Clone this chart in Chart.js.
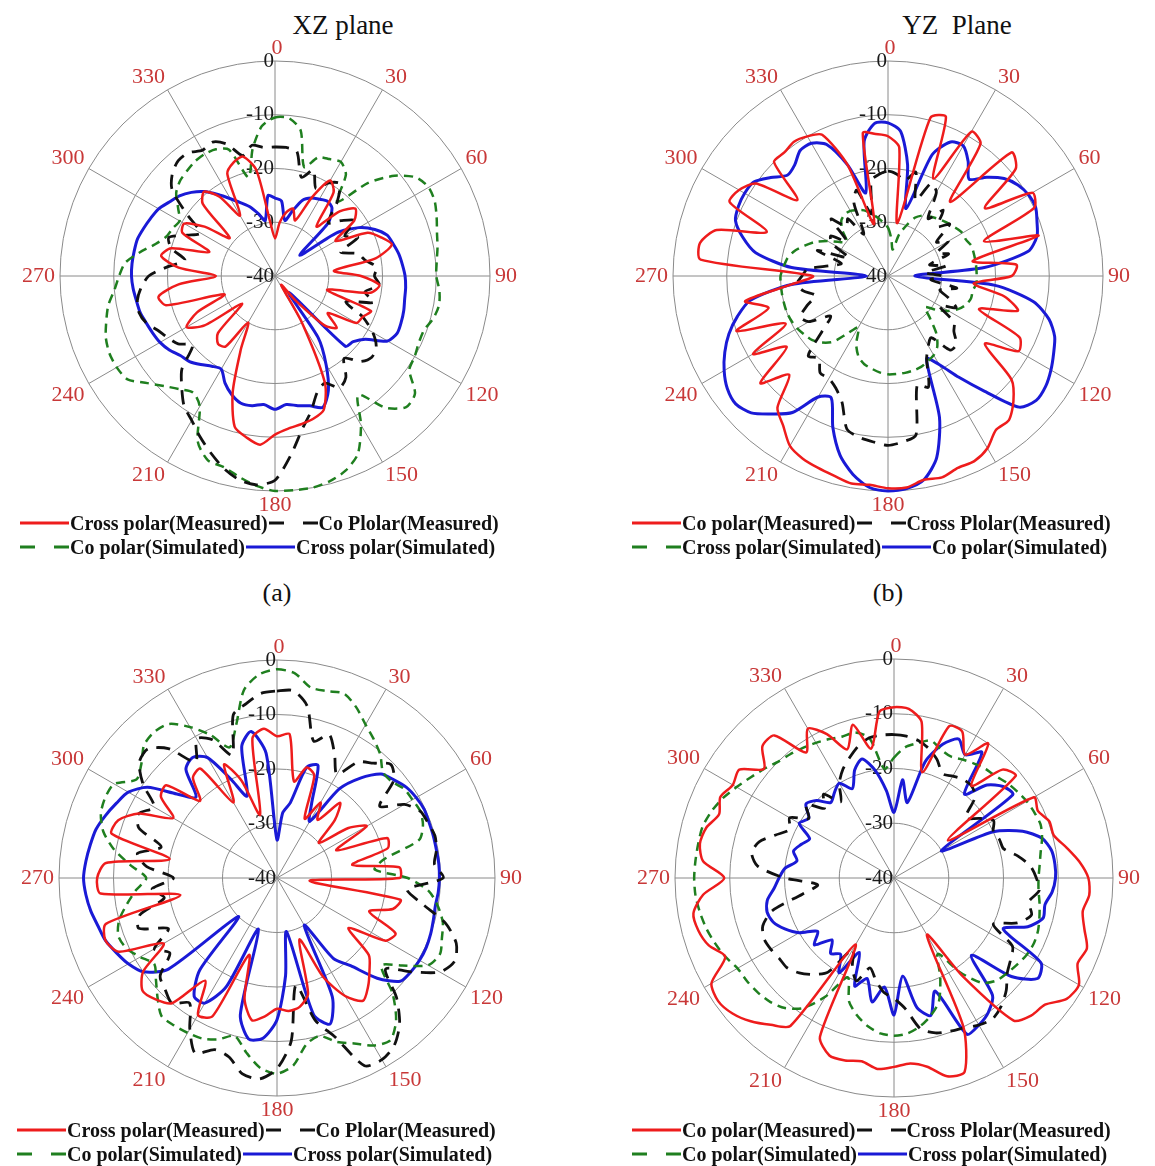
<!DOCTYPE html>
<html>
<head>
<meta charset="utf-8">
<script src="https://cdn.jsdelivr.net/npm/chart.js@4.4.1/dist/chart.umd.min.js"></script>
<style>
  html, body { margin: 0; padding: 0; background: #fff; }
  body { width: 1155px; height: 1166px; position: relative; overflow: hidden; font-family: 'Liberation Serif', 'Times New Roman', serif; color: #111; }
  canvas.plot { position: absolute; }
  .title { position: absolute; font-size: 27px; line-height: 30px; white-space: pre; transform: translateX(-50%); }
  .caption { position: absolute; font-size: 26px; line-height: 30px; transform: translateX(-50%); }
  .legend { position: absolute; font-weight: bold; font-size: 20px; z-index: 2; }
  .legend .row { display: flex; align-items: center; height: 24px; white-space: nowrap; }
  .legend svg { display: block; flex: none; margin: 0 1px; }
</style>
</head>
<body>
<div class="title" style="left:343px; top:10px;">XZ plane</div>
<div class="title" style="left:957px; top:10px;">YZ  Plane</div>
<canvas class="plot" id="chartA" width="540" height="500"></canvas>
<canvas class="plot" id="chartB" width="540" height="500"></canvas>
<canvas class="plot" id="chartC" width="540" height="500"></canvas>
<canvas class="plot" id="chartD" width="540" height="500"></canvas>
<div class="legend" id="legA" style="left:19px; top:511px;"></div>
<div class="legend" id="legB" style="left:631px; top:511px;"></div>
<div class="legend" id="legC" style="left:16px; top:1118px;"></div>
<div class="legend" id="legD" style="left:631px; top:1118px;"></div>
<div class="caption" style="left:277px; top:578px;">(a)</div>
<div class="caption" style="left:888px; top:578px;">(b)</div>

<script>
// angles (deg, clockwise from top) and axis ticks
const angles = [0,5,10,15,20,25,30,35,40,45,50,55,60,65,70,75,80,85,90,95,100,105,110,115,
  120,125,130,135,140,145,150,155,160,165,170,175,180,185,190,195,200,205,210,215,220,225,230,235,
  240,245,250,255,260,265,270,275,280,285,290,295,300,305,310,315,320,325,330,335,340,345,350,355];
const angleLabels = [0,30,60,90,120,150,180,210,240,270,300,330];
const tickValues = [0,-10,-20,-30,-40];

// (a) XZ plane
const xzCrossMeas = [-33,-30,-28,-27,-29,-24, -19.5,-21,-28,-23,-20.5,-22, -27,-21,-19,-17.5,-21,-29,
  -24,-20.5,-22,-30,-21,-22, -22.5,-28,-25,-27,-34,-38, -30,-18,-13.5,-12.5,-12,-11.5,
  -10.5,-8.5,-9.5,-11,-17,-25, -30,-24,-23.5,-25,-32,-24, -21,-24,-30,-19,-18,-22,
  -29,-22,-18.5,-20,-27,-21, -20.5,-24,-29,-21,-19.5,-22, -27,-19,-17.5,-17,-20,-30];
const xzCoMeas = [-16,-16,-16.5,-21,-19,-22, -20,-19,-22,-26,-24,-22, -25,-23,-27,-24,-23,-21,
  -21.5,-20.5,-23,-21,-26,-22, -19,-17,-16.5,-17.5,-20,-17, -16,-18,-17,-14,-11,-6.5,
  -2,-1,-1.5,-3,-5,-7, -9,-10.5,-13,-15.5,-20,-18, -17,-16,-14.5,-13.8,-14,-15,
  -16.5,-20,-23,-20,-19,-22, -24,-20,-15,-13,-12,-12, -13,-12.5,-13.9,-16.8,-15.3,-16];
const xzCoSim = [-10.5,-10.5,-12.5,-19,-16.5,-16, -15.5,-17,-22,-15.5,-11,-8, -7,-7.2,-8,-8.8,-9.3,-9.8,
  -10,-9.3,-9,-9.5,-10.5,-10.5, -10,-9.5,-6,-5.5,-8,-13, -8,-3.5,-1.5,-0.5,0,0,
  0,-0.8,-2,-3.2,-3.5,-6, -12,-13.5,-12.5,-11,-9,-6.5, -6,-6,-6.5,-7.5,-8.5,-10,
  -11,-12,-14.5,-17,-18.5,-19, -19.5,-18,-16,-15,-14.5,-14, -13.8,-14,-15,-21,-16,-12];
const xzCrossSim = [-25.5,-26,-29.5,-27.5,-25,-24, -23.5,-23,-23.5,-26,-34,-26, -22,-19.5,-17.8,-17.2,-16.6,-16.2,
  -15.8,-15.6,-15.5,-15.2,-15,-14.9, -15.8,-19.5,-21,-21.5,-36,-26, -21,-16.5,-14,-15,-15.5,-16,
  -15.2,-16,-15.5,-15.5,-16.5,-18, -20,-19.5,-18.5,-17.5,-17,-16, -15.3,-14.9,-14.5,-14,-13.8,-13.5,
  -13.3,-13.3,-13.4,-13.5,-14,-14.5, -15,-16,-16.8,-18,-19.5,-21.5, -23.4,-25,-26.3,-28,-29.5,-25];

// (b) YZ plane
const yzCoMeas = [-14,-16,-30,-9.5,-8.5,-20, -9,-10,-22,-7.5,-9,-18, -9,-10,-21,-11,-24,-16,
  -17,-24,-18,-15,-22,-13, -12,-18,-10,-7,-5,-5, -3,-2,-2,-1.2,-1.5,-0.5,
  -0.5,-1,-0.8,-1.5,-2,-2.5, -3.5,-6,-8,-14,-9,-17, -11,-19,-10,-17,-13,-22,
  -26,-5,-4.5,-7,-16,-7.5, -8,-10,-18,-10,-10,-9.5, -10,-11,-18,-30,-13,-13.5];
const yzCrossMeas = [-20.5,-21,-22,-20,-25,-21, -22,-27,-24,-27,-25,-29, -27,-30,-28,-32,-29,-33,
  -30,-32,-27,-30,-28,-26, -29,-25,-24,-22,-22,-26, -25,-23,-18,-19,-10,-9,
  -8.5,-9,-9.5,-10.5,-15,-17, -18,-18,-20,-19,-24,-27, -23,-22,-24,-26,-24,-23,
  -24,-25,-29,-31,-26,-32, -28,-27,-30,-25,-28,-27, -31,-25,-23,-28,-22,-21];
const yzCrossSim = [-31,-33,-35,-32,-30,-28, -27,-26.5,-26,-25.5,-25,-24.5, -24,-24,-23.5,-23.5,-23.5,-23.5,
  -23.5,-23.5,-24,-24,-24.5,-25.5, -27,-29,-31,-29,-26,-24, -23,-22.5,-22,-21.8,-21.7,-21.7,
  -21.7,-22,-22.5,-23,-24,-26, -29,-27,-24,-22.5,-21.5,-21, -20.5,-20.2,-20,-20,-20,-20,
  -20,-20.5,-21,-22,-23.5,-25, -27,-29,-30,-28,-26.5,-26, -26,-26.5,-27,-28,-29,-30];
const yzCoSim = [-11.5,-13,-19,-27,-16,-12.5, -12,-14,-16.5,-14,-11.8,-10.5, -9.8,-9.7,-10.5,-11.3,-13.5,-22,
  -35,-20,-12.5,-9,-7,-6, -5,-4.2,-4,-5.5,-12,-17, -21,-23,-12,-5,-1.5,-0.3,
  0,-0.5,-2.5,-5.5,-10,-15, -14,-9,-6.5,-4,-3,-3.5, -4.8,-6.5,-8.5,-11,-14,-22,
  -36,-22,-15,-12,-9.8,-9.3, -9.2,-9.5,-11.5,-13.5,-13,-11.5, -11.5,-13,-18,-24,-14.5,-11.5];

// (c)
const cCrossMeas = [-14,-13.5,-22,-19,-20,-28, -24,-27,-22,-25,-30,-24, -21,-28,-18.5,-19,-26,-17.5,
  -17.5,-34,-17,-18,-22,-16, -17,-24,-18,-16,-14,-12.5, -15,-20,-28,-18,-16,-15.5,
  -16,-14.5,-13.5,-17,-25,-12, -11,-17,-10,-8.5,-7.8,-10, -16,-8,-6.5,-7.5,-22,-7.5,
  -7,-8.5,-20,-8.6,-9,-12, -18,-14,-13.5,-20,-16,-15.5, -24,-17,-21,-28,-14,-12.5];
const cCoMeas = [-5.7,-5.5,-8,-14,-12,-15, -18,-14,-12.5,-10.5,-12,-17, -13,-11,-10.5,-10,-10.3,-11,
  -9.5,-16,-13,-8,-5,-4, -5.5,-10,-14,-9,-5,-2.5, -1.5,-2,-9,-13,-20,-10,
  -5,-3,-3.5,-6,-6.5,-4.5, -8,-12,-10,-11,-12,-16, -14,-18,-13,-14,-19,-17,
  -21,-16,-14,-18,-13,-12, -14,-10,-7,-6.5,-9,-14, -10.5,-12,-16,-9,-7.5,-6];
const cCoSim = [-1.7,-2.3,-4.5,-4.5,-4,-5.5, -7.5,-9,-10.5,-12.5,-12.5,-11.5, -11.3,-11,-11.5,-13,-20,-22,
  -16,-12,-10,-8.5,-7.8,-7, -8,-12,-15,-10,-6,-3.7, -4.5,-6.5,-8,-10,-9,-5.5,
  -4.1,-5,-7.5,-10,-8.5,-7.5, -7.2,-7,-7,-9,-11,-12.5, -11,-9.5,-9,-10,-12,-14,
  -16,-13,-9.6,-7,-5.6,-5.2, -5.5,-8.5,-7.5,-5.5,-5,-5.5, -8,-11,-14.5,-11,-5,-2.5];
const cCrossSim = [-33,-28,-26,-19,-18,-25, -28,-20,-16,-13,-12,-11, -10.5,-10.2,-10.3,-10.3,-10.3,-10.2,
  -10.2,-10.3,-10.5,-10.3,-10,-9.8, -9.8,-10,-10.5,-14,-19,-22, -30,-16,-11.5,-14,-30,-22,
  -14,-10.5,-10,-14,-30,-18, -13.5,-13.5,-18,-30,-14,-10, -8.5,-7.5,-6.5,-6,-5.3,-4.8,
  -4.5,-4.8,-5.2,-5.6,-6.5,-7.5, -8.5,-11,-16,-19,-14,-13, -14.5,-20,-24,-15,-12.7,-17];

// (d)
const dCoMeas = [-8.8,-9,-11,-20,-10.5,-10.5, -14,-10,-18,-12,-11,-28, -10.5,-11,-9.8,-9.8,-8,-6,
  -4.5,-4.2,-5,-4,-2.5,-3, -1,-1.5,-4,-4.5,-6,-18, -28,-10,-2.3,-2.5,-5,-6,
  -5.5,-5,-6,-5.5,-5.5,-8, -26,-7,-5,-3,-1.5,-0.8, -1.5,-6,-4,-3,-2.8,-5,
  -9,-5,-4,-4.5,-6,-5, -6,-5.5,-9,-6,-6,-12, -8.5,-11,-15,-11,-16,-9.5];
const dCrossMeas = [-13.8,-14,-14.5,-15.5,-17,-19, -18.5,-18,-18,-19,-23,-21, -19,-20,-19.5,-19.3,-17,-15,
  -14,-13.4,-15,-14,-16,-20, -15,-14,-13,-11,-9.5,-8.6, -9,-9.8,-10.2,-10.7,-12,-16,
  -18,-19,-21,-23,-20,-22, -25,-19,-17,-15.5,-14.5,-14.4, -14,-13.8,-14.5,-17,-23,-26,
  -20,-15,-13.6,-14.5,-17,-19, -18,-21,-19,-22,-20,-23, -20,-18,-16.5,-15,-14,-13.8];
const dCoSim = [-18,-16,-15,-14,-15,-15.5, -15,-14.5,-14,-13.7,-13,-12.5, -12,-11.7,-11.5,-12,-12.8,-13.3,
  -13.6,-13.5,-13,-12.5,-12,-11.8, -12,-12.5,-13,-13.5,-15,-19, -24,-20,-16,-14,-12.5,-11.5,
  -11.2,-11.5,-12.5,-14,-16,-20, -15,-11,-9,-8,-7.5,-7.2, -7,-6,-5.2,-4.5,-4,-3.6,
  -3.5,-3.6,-3.7,-3.8,-4.5,-5.5, -6.8,-8,-9,-10,-10.5,-11, -11.5,-12,-12.5,-12.5,-14,-20];
const dCrossSim = [-28,-22,-26,-18,-14,-12, -14,-12,-20,-16,-14,-13.5, -30,-20,-15,-12,-10.8,-10.5,
  -10.5,-11,-12,-11.8,-14,-18, -9,-8,-12,-20,-12,-10, -9,-8.5,-18,-14,-16,-22,
  -15,-20,-17,-21,-19,-25, -20,-23,-22,-24,-21,-23, -20,-18,-16.5,-16,-16.5,-18,
  -19,-20,-22,-21,-22,-23, -20,-21,-19,-20,-22,-21, -20,-22,-19,-17.5,-20,-24];

const RED = '#ee1c1c', BLACK = '#111111', GREEN = '#1f7f1f', BLUE = '#1a1ad6';
const solid = [];
const greenDash = [9, 6];
const blackDash = [14, 9];
const SERIF = '"Liberation Serif", "Times New Roman", serif';

Chart.defaults.font.family = SERIF;

// tick and angle labels drawn from the radial scale positions
const polarLabels = {
    id: 'polarLabels',
    beforeDatasetsDraw(chart) {
        const r = chart.scales.r;
        const ctx = chart.ctx;
        ctx.save();
        ctx.font = '21px ' + SERIF;
        ctx.fillStyle = '#1a1a1a';
        ctx.textAlign = 'right';
        ctx.textBaseline = 'middle';
        tickValues.forEach(v => {
            ctx.fillText(String(v), r.xCenter - 1, r.yCenter - r.getDistanceFromCenterForValue(v));
        });
        ctx.font = '22px ' + SERIF;
        ctx.fillStyle = '#c83838';
        chart.data.labels.forEach((a, i) => {
            if (!angleLabels.includes(a)) return;
            const p = r.getPointPosition(i, r.drawingArea + 5);
            let y = p.y;
            ctx.textAlign = (a === 0 || a === 180) ? 'center' : (a < 180 ? 'left' : 'right');
            if (a === 90 || a === 270) {
                ctx.textBaseline = 'middle';
            } else if (a < 90 || a > 270) {
                ctx.textBaseline = 'alphabetic'; y -= 2;
            } else {
                ctx.textBaseline = 'top'; y -= 2;
            }
            ctx.fillText(String(a), p.x + (a === 0 ? 2 : 0), y);
        });
        ctx.restore();
    }
};

function makePolar(id, cx, cy, R, series) {
    const canvas = document.getElementById(id);
    const W = canvas.width, H = canvas.height;
    canvas.style.left = (cx - W / 2) + 'px';
    canvas.style.top = (cy - H / 2) + 'px';
    const padX = (W - 2 * R) / 2, padY = (H - 2 * R) / 2;
    return new Chart(canvas, {
        type: 'radar',
        data: {
            labels: angles,
            datasets: series.map(s => ({
                label: s.label, data: s.data,
                borderColor: s.color, borderWidth: s.width, borderDash: s.dash,
                pointRadius: 0, fill: false, tension: 0.25
            }))
        },
        options: {
            responsive: false,
            animation: false,
            layout: { padding: { left: padX, right: padX, top: padY, bottom: padY } },
            plugins: { legend: { display: false }, tooltip: { enabled: false } },
            scales: {
                r: {
                    min: -40, max: 0,
                    ticks: { display: false, stepSize: 10 },
                    pointLabels: { display: false },
                    grid: { color: '#8a8a8a', lineWidth: 1 },
                    angleLines: { color: '#8a8a8a', lineWidth: c => (c.index % 6 === 0 ? 1 : 0) }
                }
            }
        },
        plugins: [polarLabels]
    });
}

function buildLegend(elId, series) {
    const el = document.getElementById(elId);
    [series.slice(0, 2), series.slice(2, 4)].forEach(items => {
        const row = document.createElement('div');
        row.className = 'row';
        items.forEach(s => {
            const dash = s.dash.length ? 'stroke-dasharray="15 19"' : '';
            row.insertAdjacentHTML('beforeend',
                '<svg width="49" height="10"><line x1="0" y1="5" x2="49" y2="5" stroke="' + s.color +
                '" stroke-width="3" ' + dash + '/></svg><span>' + s.label + '</span>');
        });
        el.appendChild(row);
    });
}

const seriesA = [
    { label: 'Cross polar(Measured)', data: xzCrossMeas, color: RED, width: 2.5, dash: solid },
    { label: 'Co Plolar(Measured)', data: xzCoMeas, color: BLACK, width: 2.8, dash: blackDash },
    { label: 'Co polar(Simulated)', data: xzCoSim, color: GREEN, width: 2.5, dash: greenDash },
    { label: 'Cross polar(Simulated)', data: xzCrossSim, color: BLUE, width: 3, dash: solid }
];
const seriesB = [
    { label: 'Co polar(Measured)', data: yzCoMeas, color: RED, width: 2.5, dash: solid },
    { label: 'Cross Plolar(Measured)', data: yzCrossMeas, color: BLACK, width: 2.8, dash: blackDash },
    { label: 'Cross polar(Simulated)', data: yzCrossSim, color: GREEN, width: 2.5, dash: greenDash },
    { label: 'Co polar(Simulated)', data: yzCoSim, color: BLUE, width: 3, dash: solid }
];
const seriesC = [
    { label: 'Cross polar(Measured)', data: cCrossMeas, color: RED, width: 2.5, dash: solid },
    { label: 'Co Plolar(Measured)', data: cCoMeas, color: BLACK, width: 2.8, dash: blackDash },
    { label: 'Co polar(Simulated)', data: cCoSim, color: GREEN, width: 2.5, dash: greenDash },
    { label: 'Cross polar(Simulated)', data: cCrossSim, color: BLUE, width: 3, dash: solid }
];
const seriesD = [
    { label: 'Co polar(Measured)', data: dCoMeas, color: RED, width: 2.5, dash: solid },
    { label: 'Cross Plolar(Measured)', data: dCrossMeas, color: BLACK, width: 2.8, dash: blackDash },
    { label: 'Co polar(Simulated)', data: dCoSim, color: GREEN, width: 2.5, dash: greenDash },
    { label: 'Cross polar(Simulated)', data: dCrossSim, color: BLUE, width: 3, dash: solid }
];

const charts = [
    makePolar('chartA', 275, 276, 215, seriesA),
    makePolar('chartB', 888, 276, 215, seriesB),
    makePolar('chartC', 277, 878, 218, seriesC),
    makePolar('chartD', 894, 878, 219, seriesD)
];

buildLegend('legA', seriesA);
buildLegend('legB', seriesB);
buildLegend('legC', seriesC);
buildLegend('legD', seriesD);

// redraw once the serif face is ready so the canvas labels use it
if (document.fonts && document.fonts.load) {
    document.fonts.load('22px "Liberation Serif"').then(() => {
        charts.forEach(c => c.draw());
    });
}
</script>
</body>
</html>
